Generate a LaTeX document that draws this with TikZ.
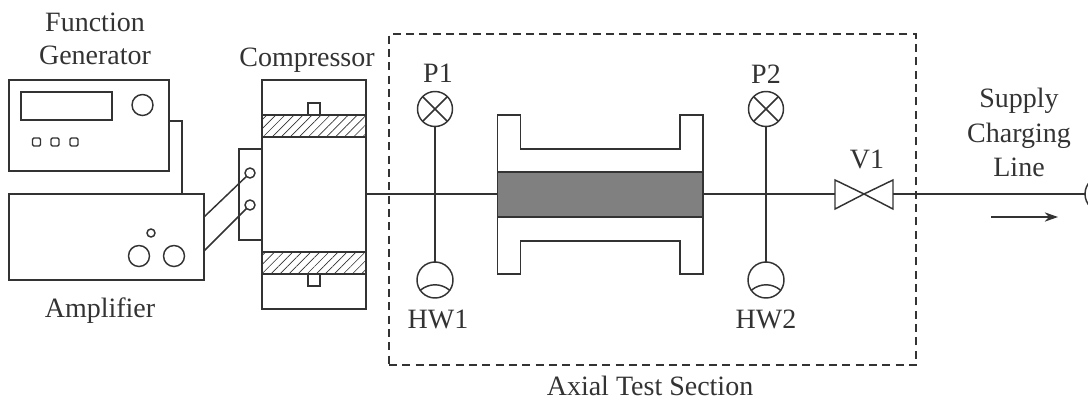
\documentclass[tikz,border=0pt]{standalone}
\usepackage{fontspec}
\setmainfont{Liberation Serif}
\usetikzlibrary{arrows, arrows.meta, patterns.meta, positioning}
\tikzset{>=stealth}
\definecolor{inkgray}{HTML}{333333}
\tikzset{
	box/.style 2 args={draw, inner sep=0pt, outer sep=0pt, minimum width=#1*0.75pt, minimum height=#2*0.75pt},
	dial/.style={draw, circle, inner sep=0pt, outer sep=0pt, minimum size=#1*0.75pt},
	lab/.style={text=inkgray, font=\fontsize{21}{21}\selectfont, inner sep=0pt, anchor=base},
	hatch/.style={pattern={Lines[angle=45,distance=4.8pt,line width=.5pt]}, pattern color=inkgray},
}

\begin{document}
\begin{tikzpicture}[x=0.75pt, y=-0.75pt, draw=inkgray, line width=1.1pt]

	\useasboundingbox (0,0) rectangle (1088,400);

	% function generator
	\node[box={160}{91}] (G) at (89,125.5) {};
	\node[box={91}{28}] (G1) at (66.5,106) {};
	\node[dial=21] (G2) at (142.5,105) {};
	\node[box={8}{8}, rounded corners=1pt] (G3) at (36.5,142) {};
	\node[box={8}{8}, rounded corners=1pt] (G4) at (55,142) {};
	\node[box={8}{8}, rounded corners=1pt] (G5) at (74,142) {};

	% amplifier
	\node[box={195}{86}] (A) at (106.5,237) {};
	\node[dial=8] (A1) at (151,233) {};
	\node[dial=21] (A2) at (139,256) {};
	\node[dial=21] (A3) at (174,256) {};
	\coordinate (G6) at (169,121);
	\coordinate (G7) at (182,121);
	\coordinate (A4) at (182,194);
	\draw (G6)--(G7)--(A4);

	% compressor
	\node[box={23}{91}] (T) at (250.5,194.5) {};
	\node[box={104}{229}, fill=white] (C) at (314,194.5) {};
	\node[box={12}{12}] (C1) at (314,109) {};
	\node[box={12}{12}] (C2) at (314,280) {};
	\node[box={104}{22}, hatch] (C3) at (314,126) {};
	\node[box={104}{22}, hatch] (C4) at (314,263) {};
	\node[dial=10] (T1) at (250,173) {};
	\node[dial=10] (T2) at (250,205) {};
	\coordinate (A5) at (204,217);
	\coordinate (A6) at (204,251);
	\draw (A5)--(T1);
	\draw (A6)--(T2);

	% test section
	\coordinate (S1) at (497.5,115);
	\coordinate (S2) at (520.5,115);
	\coordinate (S3) at (520.5,149);
	\coordinate (S4) at (680,149);
	\coordinate (S5) at (680,115);
	\coordinate (S6) at (703,115);
	\coordinate (S7) at (703,274);
	\coordinate (S8) at (680,274);
	\coordinate (S9) at (680,241);
	\coordinate (S10) at (520.5,241);
	\coordinate (S11) at (520.5,274);
	\coordinate (S12) at (497.5,274);
	\draw (S1)--(S2)--(S3)--(S4)--(S5)--(S6)--(S7)--(S8)--(S9)--(S10)--(S11)--(S12)--cycle;
	\node[box={205.5}{45}, fill=black!50] (S) at (600.25,194.5) {};

	% sensors
	\node[dial=35] (P1) at (435,109) {};
	\node[dial=35] (P2) at (766,109) {};
	\node[dial=36] (H1) at (435,280) {};
	\node[dial=36] (H2) at (766,280) {};
	\draw (P1.north west)--(P1.south east);
	\draw (P1.north east)--(P1.south west);
	\draw (P2.north west)--(P2.south east);
	\draw (P2.north east)--(P2.south west);
	\draw (H1.-145) to[bend left=40] (H1.-35);
	\draw (H2.-145) to[bend left=40] (H2.-35);
	\draw (P1)--(H1);
	\draw (P2)--(H2);

	% valve
	\coordinate (V0) at (864,194);
	\coordinate (V2) at (835,180);
	\coordinate (V3) at (835,209);
	\coordinate (V4) at (893,180);
	\coordinate (V5) at (893,209);
	\draw (V0)--(V2)--(V3)--cycle;
	\draw (V0)--(V4)--(V5)--cycle;

	% lines
	\coordinate (L1) at (366,194);
	\coordinate (L2) at (497.5,194);
	\coordinate (L3) at (703,194);
	\coordinate (L4) at (835,194);
	\coordinate (L5) at (893,194);
	\node[dial=36] (R) at (1103,194) {};
	\draw (L1)--(L2);
	\draw (L3)--(L4);
	\draw (L5)--(R);
	\coordinate (F1) at (991,217);
	\coordinate (F2) at (1058,217);
	\draw [-{Stealth[length=10pt,width=7pt]}] (F1)--(F2);

	% dashed frame
	\node[box={527}{331}, dash pattern=on 6pt off 4pt] (D) at (652.5,199.5) {};

	% labels
	\node[lab] (t1) at (95,31) {Function};
	\node[lab] (t2) at (95,64) {Generator};
	\node[lab] (t3) at (307,66) {Compressor};
	\node[lab] (t4) at (100,317) {Amplifier};
	\node[lab] (t5) at (438,82) {P1};
	\node[lab] (t6) at (438,328) {HW1};
	\node[lab] (t7) at (766,83) {P2};
	\node[lab] (t8) at (766,328) {HW2};
	\node[lab] (t9) at (867,168) {V1};
	\node[lab] (t10) at (650,395) {Axial Test Section};
	\node[lab] (t11) at (1019,107) {Supply};
	\node[lab] (t12) at (1019,142) {Charging};
	\node[lab] (t13) at (1019,176) {Line};

\end{tikzpicture}
\end{document}
